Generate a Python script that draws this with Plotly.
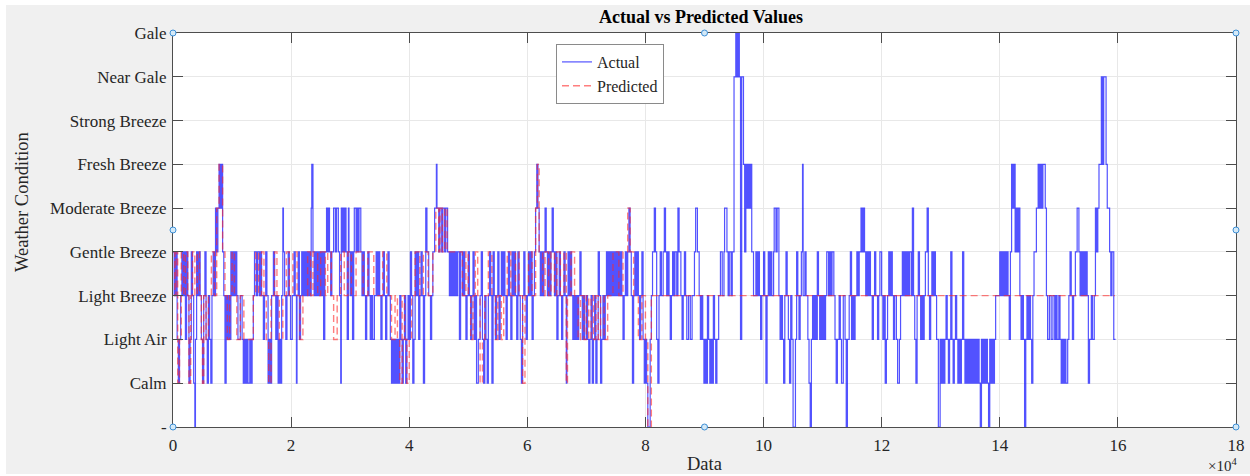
import plotly.graph_objects as go

# ---------------- data ----------------
level_labels = ["-", "Calm", "Light Air", "Light Breeze", "Gentle Breeze",
                "Moderate Breeze", "Fresh Breeze", "Strong Breeze", "Near Gale", "Gale"]
x_tick_values = [0, 20000, 40000, 60000, 80000, 100000, 120000, 140000, 160000, 180000]
x_tick_labels = ["0", "2", "4", "6", "8", "10", "12", "14", "16", "18"]

actual_x = [
    0, 200, 300, 500, 600, 700, 900, 1100, 1300, 1500,
    1700, 1900, 2100, 2300, 2500, 2700, 2900, 3100, 3300, 3500,
    3700, 3800, 4000, 4200, 4400, 4600, 4800, 5000, 5200, 5400,
    5600, 5800, 6000, 6200, 6400, 6600, 6800, 7000, 7200, 7400,
    7600, 7800, 8000, 8200, 8400, 8600, 8800, 9000, 9200, 9400,
    9600, 9800, 10000, 10200, 10400, 10600, 10800, 11000, 11400, 11700,
    11900, 12100, 12300, 12500, 12700, 13000, 13200, 13400, 13600, 13800,
    14100, 14300, 14600, 14800, 15000, 15300, 15500, 15700, 15900, 16100,
    16300, 16500, 16700, 17000, 17200, 17400, 17600, 17800, 18000, 18200,
    18400, 18600, 18700, 18900, 19100, 19300, 19500, 19700, 19900, 20200,
    20500, 20700, 20900, 21000, 21200, 21400, 21600, 21800, 22000, 22200,
    22400, 22600, 22800, 23000, 23200, 23400, 23500, 23700, 23900, 24100,
    24300, 24500, 24700, 24900, 25100, 25300, 25500, 25700, 26000, 26200,
    26400, 26500, 26700, 26900, 27200, 27500, 27700, 28000, 28200, 28400,
    28500, 28600, 28800, 29000, 29100, 29300, 29500, 29700, 29800, 30000,
    30200, 30400, 30600, 30700, 31000, 31200, 31400, 31500, 31800, 32000,
    32200, 32400, 32600, 32800, 33000, 33200, 33400, 33600, 33800, 34100,
    34400, 34600, 34800, 35000, 35200, 35400, 35600, 35800, 36000, 36200,
    36400, 36600, 36800, 37000, 37200, 37400, 37600, 37800, 38000, 38200,
    38400, 38600, 38800, 39000, 39200, 39400, 39600, 39800, 40000, 40200,
    40400, 40600, 40800, 41000, 41200, 41400, 41600, 41800, 42000, 42200,
    42400, 42600, 42800, 43000, 43300, 43600, 43800, 44000, 44300, 44600,
    44700, 45000, 45200, 45500, 45700, 46000, 46200, 46500, 46800, 47000,
    47200, 47400, 47600, 47800, 48000, 48200, 48500, 48700, 49000, 49200,
    49400, 49600, 49800, 50000, 50200, 50400, 50600, 50800, 51000, 51200,
    51400, 51700, 52000, 52200, 52400, 52600, 52800, 53000, 53200, 53400,
    53600, 53800, 54000, 54200, 54400, 54600, 54800, 55000, 55200, 55400,
    55600, 55800, 56000, 56200, 56400, 56600, 56800, 57000, 57200, 57400,
    57600, 57800, 58000, 58200, 58400, 58600, 58800, 59000, 59200, 59400,
    59600, 59800, 60000, 60200, 60400, 60600, 60800, 61000, 61200, 61400,
    61600, 61800, 62000, 62200, 62400, 62600, 62800, 63000, 63200, 63400,
    63600, 63800, 64000, 64200, 64400, 64600, 64800, 65000, 65200, 65400,
    65600, 65800, 66000, 66200, 66400, 66600, 66700, 66900, 67100, 67300,
    67500, 67700, 67900, 68100, 68300, 68500, 68700, 68900, 69100, 69300,
    69500, 69700, 70000, 70200, 70400, 70600, 70800, 71000, 71200, 71400,
    71600, 71800, 72000, 72200, 72400, 72600, 72800, 73000, 73200, 73400,
    73600, 73800, 74000, 74200, 74400, 74600, 74800, 75000, 75200, 75400,
    75600, 75800, 76000, 76200, 76400, 76600, 76800, 77000, 77200, 77400,
    77600, 77800, 78000, 78200, 78400, 78600, 78800, 79000, 79200, 79400,
    79600, 79800, 80000, 80200, 80400, 80800, 81000, 81200, 81500, 81700,
    81900, 82100, 82300, 82500, 82700, 83000, 83200, 83400, 83600, 83800,
    84000, 84200, 84400, 84600, 84800, 85000, 85300, 85500, 85700, 86000,
    86200, 86400, 86600, 86800, 87000, 87300, 87600, 87900, 88300, 88500,
    88800, 89100, 89300, 89500, 89700, 89900, 90100, 90300, 90500, 90700,
    90900, 91100, 91300, 91500, 91700, 91900, 92100, 92400, 92700, 93000,
    93300, 93400, 93800, 94000, 94200, 94500, 94700, 95000, 95300, 95500,
    95700, 95900, 96100, 96300, 96600, 96800, 97000, 97200, 97400, 97600,
    97800, 98000, 98300, 98700, 98800, 98900, 99000, 99100, 99300, 99500,
    99700, 100000, 100200, 100400, 100600, 100800, 101000, 101200, 101400, 101700,
    101800, 102100, 102300, 102600, 102800, 103000, 103200, 103400, 103600, 103800,
    104000, 104200, 104400, 104600, 104800, 105000, 105400, 105600, 105800, 106000,
    106200, 106400, 106600, 106700, 107000, 107200, 107500, 107700, 107900, 108100,
    108300, 108500, 108700, 108900, 109100, 109300, 109500, 109700, 109900, 110100,
    110300, 110500, 110700, 111000, 111200, 111400, 111600, 111900, 112100, 112300,
    112500, 112800, 113000, 113200, 113500, 113800, 114000, 114200, 114500, 114700,
    114900, 115100, 115300, 115500, 115800, 116000, 116200, 116500, 116700, 116900,
    117100, 117300, 117500, 117700, 117900, 118100, 118400, 118600, 118800, 119000,
    119300, 119500, 119700, 120000, 120200, 120400, 120600, 120800, 121000, 121200,
    121400, 121600, 121800, 122000, 122200, 122500, 122700, 123000, 123200, 123500,
    123700, 123900, 124100, 124300, 124500, 124700, 125000, 125200, 125400, 125600,
    125800, 126000, 126200, 126400, 126600, 126800, 127000, 127200, 127400, 127700,
    127900, 128100, 128300, 128500, 128700, 128900, 129100, 129300, 129600, 129900,
    130100, 130300, 130500, 130700, 130900, 131100, 131300, 131500, 131700, 131900,
    132100, 132300, 132500, 132700, 132900, 133100, 133300, 133500, 133700, 133900,
    134100, 134300, 134500, 134700, 134900, 135100, 135300, 135500, 135700, 135900,
    136100, 136300, 136500, 136700, 136900, 137100, 137300, 137500, 137700, 137900,
    138100, 138300, 138500, 138700, 138900, 139100, 139300, 140000, 140200, 140400,
    140600, 140800, 141000, 141200, 141400, 141600, 141800, 142000, 142200, 142400,
    142600, 142800, 143000, 143200, 143400, 143600, 143800, 144000, 144200, 144400,
    144600, 144800, 145000, 145200, 145400, 145600, 145800, 146200, 146500, 146700,
    146900, 147100, 147300, 147700, 147900, 148100, 148400, 148700, 149000, 149300,
    149500, 149700, 150000, 150200, 150400, 150600, 150800, 151000, 151200, 151500,
    151700, 151900, 152100, 152300, 152500, 152800, 153100, 153400, 153600, 153800,
    154000, 154200, 154400, 154600, 154800, 155000, 155200, 155500, 155700, 156000,
    156200, 156400, 156600, 156800, 157200, 157400, 157600, 158000, 158200, 158600,
    158800, 159000, 159300, 159600,
]
actual_y = [
    4, 3, 4, 3, 4, 2, 1, 2, 3, 4,
    3, 4, 2, 4, 3, 1, 2, 4, 3, 1,
    0, 2, 4, 3, 4, 3, 2, 1, 3, 4,
    2, 1, 3, 2, 1, 3, 4, 3, 5, 4,
    5, 6, 5, 6, 4, 3, 1, 3, 2, 3,
    2, 4, 3, 4, 3, 4, 3, 2, 3, 2,
    1, 2, 1, 2, 1, 2, 1, 2, 3, 4,
    3, 4, 3, 4, 3, 2, 3, 4, 3, 1,
    2, 1, 3, 4, 3, 2, 3, 1, 2, 1,
    3, 5, 4, 3, 2, 3, 4, 3, 2, 3,
    4, 3, 1, 3, 4, 2, 3, 4, 3, 4,
    3, 4, 3, 4, 3, 5, 6, 4, 3, 4,
    3, 4, 3, 4, 3, 4, 2, 4, 5, 4,
    5, 4, 3, 4, 5, 4, 5, 4, 3, 1,
    5, 4, 5, 4, 5, 4, 2, 5, 4, 3,
    4, 2, 4, 5, 4, 5, 4, 5, 4, 3,
    4, 3, 2, 3, 4, 3, 2, 3, 2, 3,
    4, 3, 4, 3, 2, 3, 4, 3, 2, 3,
    4, 3, 2, 1, 2, 1, 2, 1, 2, 1,
    3, 2, 1, 2, 3, 1, 2, 3, 2, 4,
    3, 1, 2, 4, 3, 4, 2, 3, 4, 3,
    1, 3, 5, 4, 3, 2, 3, 4, 5, 6,
    5, 4, 5, 4, 5, 4, 5, 4, 3, 4,
    3, 4, 3, 4, 3, 4, 2, 4, 3, 4,
    3, 2, 3, 4, 3, 2, 3, 4, 2, 3,
    1, 2, 3, 4, 2, 1, 3, 2, 1, 3,
    4, 3, 1, 4, 3, 2, 3, 4, 2, 3,
    4, 3, 4, 3, 2, 3, 4, 3, 2, 4,
    3, 4, 3, 2, 4, 3, 2, 1, 3, 4,
    3, 2, 3, 4, 3, 4, 2, 3, 4, 5,
    6, 5, 4, 3, 4, 3, 4, 5, 4, 3,
    4, 3, 4, 5, 4, 3, 4, 2, 3, 4,
    3, 2, 3, 4, 3, 1, 3, 4, 3, 4,
    3, 2, 3, 2, 3, 2, 3, 4, 3, 2,
    3, 2, 3, 2, 1, 2, 3, 1, 2, 3,
    1, 2, 4, 3, 1, 2, 3, 2, 3, 4,
    3, 4, 3, 4, 3, 4, 3, 4, 3, 4,
    3, 4, 3, 2, 3, 4, 3, 4, 5, 4,
    3, 1, 3, 4, 3, 4, 3, 2, 3, 4,
    2, 1, 2, 1, 0, 2, 3, 4, 5, 4,
    2, 1, 3, 4, 3, 4, 5, 4, 3, 4,
    3, 2, 3, 4, 3, 4, 3, 5, 4, 3,
    2, 3, 4, 3, 2, 3, 2, 3, 4, 5,
    4, 3, 2, 3, 2, 1, 2, 1, 3, 2,
    1, 2, 1, 3, 2, 1, 2, 3, 4, 3,
    4, 5, 4, 3, 4, 3, 4, 8, 9, 8,
    9, 8, 2, 8, 6, 4, 6, 5, 6, 5,
    6, 4, 3, 4, 3, 4, 3, 4, 3, 2,
    3, 4, 3, 1, 3, 4, 3, 4, 3, 4,
    5, 4, 5, 3, 2, 3, 2, 1, 3, 4,
    3, 2, 1, 3, 2, 0, 2, 4, 3, 2,
    3, 4, 6, 3, 4, 3, 2, 1, 0, 2,
    3, 2, 3, 2, 4, 3, 2, 3, 2, 3,
    2, 3, 4, 3, 4, 3, 4, 3, 2, 1,
    2, 3, 2, 1, 3, 2, 0, 2, 3, 4,
    2, 3, 2, 3, 4, 3, 4, 5, 4, 5,
    4, 3, 4, 3, 4, 3, 2, 3, 4, 3,
    2, 3, 4, 3, 2, 3, 1, 2, 3, 4,
    3, 4, 3, 2, 3, 2, 1, 2, 3, 4,
    3, 4, 3, 4, 3, 4, 3, 5, 3, 2,
    1, 3, 4, 3, 2, 3, 2, 3, 4, 5,
    3, 2, 3, 4, 3, 4, 3, 2, 0, 2,
    1, 2, 1, 2, 3, 2, 1, 2, 4, 2,
    1, 2, 3, 2, 1, 2, 1, 2, 4, 2,
    1, 2, 1, 2, 1, 2, 1, 2, 1, 2,
    1, 2, 1, 0, 2, 1, 2, 1, 2, 1,
    0, 2, 1, 2, 1, 2, 3, 4, 3, 4,
    3, 4, 3, 4, 3, 2, 4, 6, 5, 6,
    4, 5, 4, 5, 3, 2, 3, 2, 0, 2,
    3, 2, 3, 2, 1, 3, 4, 5, 6, 5,
    6, 5, 6, 5, 3, 2, 3, 2, 3, 2,
    3, 2, 3, 2, 1, 2, 1, 2, 1, 2,
    3, 4, 3, 2, 3, 4, 5, 4, 3, 4,
    3, 4, 3, 4, 3, 1, 2, 3, 2, 3,
    5, 4, 5, 6, 8, 6, 8, 6, 5, 4,
    3, 4, 2, 2,
]

predicted_x = [
    0, 300, 500, 800, 1100, 1400, 1800, 2100, 2500, 2700,
    3000, 3300, 3700, 4100, 4500, 4800, 5000, 5200, 5600, 6000,
    6500, 7000, 7400, 7800, 8400, 8800, 9200, 9600, 10000, 10400,
    10800, 11400, 12000, 13600, 14000, 14500, 15000, 15400, 15800, 16200,
    16600, 17200, 17600, 18000, 18600, 19200, 19700, 20300, 21000, 21500,
    22000, 22800, 23300, 23700, 24500, 25000, 25800, 26200, 26800, 27200,
    27800, 28400, 29000, 29600, 30200, 31000, 32200, 33000, 34000, 35500,
    36200, 37000, 37600, 38000, 38400, 38800, 39200, 39600, 40000, 40400,
    41000, 41800, 42400, 43200, 44000, 44500, 45000, 45200, 45600, 46000,
    46400, 49000, 49600, 50000, 50400, 50800, 51200, 51600, 52000, 52400,
    52800, 53400, 54000, 54600, 55000, 55600, 56000, 56600, 57200, 58000,
    58600, 59200, 59600, 60200, 60800, 61400, 61700, 62000, 62600, 63000,
    63600, 64000, 64600, 65000, 65600, 66200, 66600, 66800, 67400, 68000,
    68600, 69000, 69600, 70000, 70400, 70800, 71200, 71600, 72000, 72400,
    73000, 73600, 74500, 75500, 76200, 77000, 77400, 78000, 78800, 79400,
    80000, 80400, 81000, 159500,
]
predicted_y = [
    4, 3, 4, 1, 2, 4, 3, 4, 3, 1,
    3, 4, 3, 4, 3, 2, 1, 3, 2, 3,
    4, 3, 5, 6, 4, 3, 2, 3, 4, 3,
    2, 3, 2, 3, 4, 3, 4, 3, 2, 1,
    3, 4, 3, 2, 3, 4, 3, 4, 3, 2,
    3, 4, 3, 4, 3, 4, 3, 4, 3, 2,
    3, 4, 3, 4, 3, 4, 3, 4, 3, 4,
    3, 2, 3, 2, 1, 3, 2, 1, 2, 3,
    4, 3, 4, 3, 4, 5, 4, 5, 4, 5,
    4, 3, 4, 3, 2, 3, 4, 3, 1, 2,
    3, 4, 3, 2, 3, 2, 3, 4, 3, 4,
    3, 1, 3, 4, 3, 5, 6, 4, 3, 4,
    3, 4, 3, 4, 3, 4, 1, 3, 4, 3,
    2, 3, 2, 3, 2, 3, 2, 3, 2, 3,
    2, 3, 4, 3, 4, 5, 4, 3, 2, 3,
    2, 0, 3, 3,
]

# ---------------- figure ----------------
FONT = "Liberation Serif, Times New Roman, serif"
W, H = 1250, 476
PL, PR, PT, PB = 173, 1236, 33, 427   # plot-area edges in window pixels
L, T = PL, PT
R, B = W - PR, H - PB
PW, PH = PR - PL, PB - PT


def px_x(p):
    return (p - PL) / PW


def px_y(p):
    return (PB - p) / PH


fig = go.Figure()
fig.add_trace(go.Scatter(
    x=actual_x, y=actual_y, mode="lines", name="Actual",
    line=dict(color="rgba(0,0,255,0.68)", width=1.2, shape="hv"),
))
fig.add_trace(go.Scatter(
    x=predicted_x, y=predicted_y, mode="lines", name="Predicted",
    line=dict(color="rgba(255,40,40,0.6)", width=1.4, shape="hv", dash="7px,4px"),
))

axis_common = dict(
    showline=True, linecolor="#4d4d4d", linewidth=1, mirror="ticks",
    ticks="inside", ticklen=10, tickcolor="#4d4d4d", tickwidth=1,
    showgrid=True, gridcolor="#e8e8e8", gridwidth=1, zeroline=False,
    tickfont=dict(family=FONT, size=17, color="#262626"),
    automargin=False,
)

fig.update_xaxes(range=[0, 180000], tickvals=x_tick_values, ticktext=x_tick_labels,
                 ticklabelstandoff=3, **axis_common)
fig.update_yaxes(range=[0, 9], tickvals=list(range(len(level_labels))),
                 ticktext=level_labels, ticklabelstandoff=2, **axis_common)

shapes = [
    dict(type="rect", xref="paper", yref="paper", layer="below",
         x0=px_x(6), x1=px_x(1250), y0=px_y(474), y1=px_y(5),
         fillcolor="#f0f0f0", line=dict(width=0)),
    dict(type="rect", xref="paper", yref="paper", layer="below",
         x0=0, x1=1, y0=0, y1=1, fillcolor="white", line=dict(width=0)),
]
rx, ry = 3 / PW, 3 / PH
for hx, hy in [(0, 1), (0.5, 1), (1, 1), (0, 0.5), (1, 0.5), (0, 0), (0.5, 0), (1, 0)]:
    shapes.append(dict(type="circle", xref="paper", yref="paper", layer="above",
                       x0=hx - rx, x1=hx + rx, y0=hy - ry, y1=hy + ry,
                       fillcolor="#d4e9f7", line=dict(color="#3d8fd6", width=1)))

annotations = [
    dict(text="Weather Condition", xref="paper", yref="paper",
         x=px_x(22), y=px_y(202), textangle=-90, showarrow=False,
         xanchor="center", yanchor="middle",
         font=dict(family=FONT, size=18.5, color="#262626")),
    dict(text="Data", xref="paper", yref="paper",
         x=px_x(704), y=px_y(464), showarrow=False, xanchor="center", yanchor="middle",
         font=dict(family=FONT, size=18.5, color="#262626")),
    dict(text="×10<sup>4</sup>", xref="paper", yref="paper",
         x=px_x(1222), y=px_y(465), showarrow=False, xanchor="center", yanchor="middle",
         font=dict(family=FONT, size=15, color="#262626")),
]

fig.update_layout(
    width=W, height=H,
    margin=dict(l=L, r=R, t=T, b=B, pad=0, autoexpand=False),
    paper_bgcolor="white", plot_bgcolor="white",
    title=dict(text="<b>Actual vs Predicted Values</b>", x=px_x(701), xref="paper",
               y=1 - 17 / H, yref="container", xanchor="center", yanchor="middle",
               font=dict(family=FONT, size=18, color="black")),
    showlegend=True,
    legend=dict(x=px_x(556), y=px_y(44), xanchor="left", yanchor="top",
                bgcolor="white", bordercolor="#8a8a8a", borderwidth=1,
                font=dict(family=FONT, size=16, color="#262626"),
                itemwidth=30, tracegroupgap=0),
    hovermode=False,
    shapes=shapes,
    annotations=annotations,
)

fig.write_html("out.html",
               config={"displayModeBar": False},
               post_script="document.body.style.margin='0';document.body.style.overflow='hidden';")
